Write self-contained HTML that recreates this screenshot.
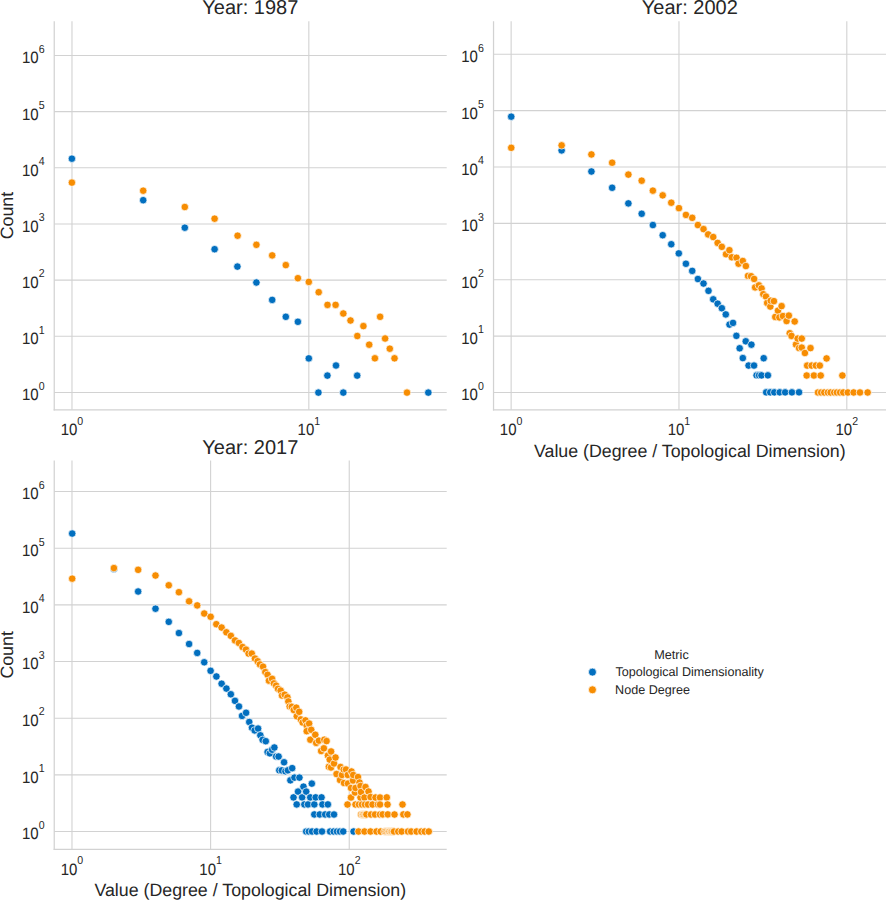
<!DOCTYPE html>
<html><head><meta charset="utf-8"><style>
html,body{margin:0;padding:0;background:#fff;}
svg{display:block;}
text{font-family:"Liberation Sans", sans-serif;fill:#262626;text-rendering:geometricPrecision;}
</style></head><body>
<svg width="886" height="900" viewBox="0 0 886 900">
<rect width="886" height="900" fill="#fff"/>
<line x1="54.24" y1="392.47" x2="446.70" y2="392.47" stroke="#d2d2d2" stroke-width="1.1"/>
<line x1="54.24" y1="336.30" x2="446.70" y2="336.30" stroke="#d2d2d2" stroke-width="1.1"/>
<line x1="54.24" y1="280.13" x2="446.70" y2="280.13" stroke="#d2d2d2" stroke-width="1.1"/>
<line x1="54.24" y1="223.96" x2="446.70" y2="223.96" stroke="#d2d2d2" stroke-width="1.1"/>
<line x1="54.24" y1="167.79" x2="446.70" y2="167.79" stroke="#d2d2d2" stroke-width="1.1"/>
<line x1="54.24" y1="111.62" x2="446.70" y2="111.62" stroke="#d2d2d2" stroke-width="1.1"/>
<line x1="54.24" y1="55.45" x2="446.70" y2="55.45" stroke="#d2d2d2" stroke-width="1.1"/>
<line x1="71.98" y1="21.30" x2="71.98" y2="409.87" stroke="#d2d2d2" stroke-width="1.1"/>
<line x1="308.83" y1="21.30" x2="308.83" y2="409.87" stroke="#d2d2d2" stroke-width="1.1"/>
<line x1="54.24" y1="21.30" x2="54.24" y2="410.47" stroke="#d2d2d2" stroke-width="1.25"/>
<line x1="53.64" y1="409.87" x2="446.70" y2="409.87" stroke="#d2d2d2" stroke-width="1.25"/>
<text transform="translate(21.97,400.37) scale(1,1.1)" font-size="15.0">10</text>
<text transform="translate(38.65,389.77) scale(1,1.1)" font-size="10.6">0</text>
<text transform="translate(21.97,344.20) scale(1,1.1)" font-size="15.0">10</text>
<text transform="translate(38.65,333.60) scale(1,1.1)" font-size="10.6">1</text>
<text transform="translate(21.97,288.03) scale(1,1.1)" font-size="15.0">10</text>
<text transform="translate(38.65,277.43) scale(1,1.1)" font-size="10.6">2</text>
<text transform="translate(21.97,231.86) scale(1,1.1)" font-size="15.0">10</text>
<text transform="translate(38.65,221.26) scale(1,1.1)" font-size="10.6">3</text>
<text transform="translate(21.97,175.69) scale(1,1.1)" font-size="15.0">10</text>
<text transform="translate(38.65,165.09) scale(1,1.1)" font-size="10.6">4</text>
<text transform="translate(21.97,119.52) scale(1,1.1)" font-size="15.0">10</text>
<text transform="translate(38.65,108.92) scale(1,1.1)" font-size="10.6">5</text>
<text transform="translate(21.97,63.35) scale(1,1.1)" font-size="15.0">10</text>
<text transform="translate(38.65,52.75) scale(1,1.1)" font-size="10.6">6</text>
<text transform="translate(60.69,435.27) scale(1,1.1)" font-size="15.0">10</text>
<text transform="translate(77.37,424.87) scale(1,1.1)" font-size="10.6">0</text>
<text transform="translate(297.54,435.27) scale(1,1.1)" font-size="15.0">10</text>
<text transform="translate(314.22,424.87) scale(1,1.1)" font-size="10.6">1</text>
<text x="250.27" y="14.40" font-size="20" text-anchor="middle">Year: 1987</text>
<text transform="translate(13.4,215.59) rotate(-90)" x="0" y="0" font-size="17.8" text-anchor="middle">Count</text>
<line x1="493.54" y1="392.47" x2="886.50" y2="392.47" stroke="#d2d2d2" stroke-width="1.1"/>
<line x1="493.54" y1="336.10" x2="886.50" y2="336.10" stroke="#d2d2d2" stroke-width="1.1"/>
<line x1="493.54" y1="279.72" x2="886.50" y2="279.72" stroke="#d2d2d2" stroke-width="1.1"/>
<line x1="493.54" y1="223.35" x2="886.50" y2="223.35" stroke="#d2d2d2" stroke-width="1.1"/>
<line x1="493.54" y1="166.97" x2="886.50" y2="166.97" stroke="#d2d2d2" stroke-width="1.1"/>
<line x1="493.54" y1="110.60" x2="886.50" y2="110.60" stroke="#d2d2d2" stroke-width="1.1"/>
<line x1="493.54" y1="54.22" x2="886.50" y2="54.22" stroke="#d2d2d2" stroke-width="1.1"/>
<line x1="511.14" y1="21.30" x2="511.14" y2="409.87" stroke="#d2d2d2" stroke-width="1.1"/>
<line x1="678.97" y1="21.30" x2="678.97" y2="409.87" stroke="#d2d2d2" stroke-width="1.1"/>
<line x1="846.80" y1="21.30" x2="846.80" y2="409.87" stroke="#d2d2d2" stroke-width="1.1"/>
<line x1="493.54" y1="21.30" x2="493.54" y2="410.47" stroke="#d2d2d2" stroke-width="1.25"/>
<line x1="492.94" y1="409.87" x2="886.50" y2="409.87" stroke="#d2d2d2" stroke-width="1.25"/>
<text transform="translate(461.27,400.37) scale(1,1.1)" font-size="15.0">10</text>
<text transform="translate(477.95,389.77) scale(1,1.1)" font-size="10.6">0</text>
<text transform="translate(461.27,344.00) scale(1,1.1)" font-size="15.0">10</text>
<text transform="translate(477.95,333.40) scale(1,1.1)" font-size="10.6">1</text>
<text transform="translate(461.27,287.62) scale(1,1.1)" font-size="15.0">10</text>
<text transform="translate(477.95,277.02) scale(1,1.1)" font-size="10.6">2</text>
<text transform="translate(461.27,231.25) scale(1,1.1)" font-size="15.0">10</text>
<text transform="translate(477.95,220.65) scale(1,1.1)" font-size="10.6">3</text>
<text transform="translate(461.27,174.87) scale(1,1.1)" font-size="15.0">10</text>
<text transform="translate(477.95,164.27) scale(1,1.1)" font-size="10.6">4</text>
<text transform="translate(461.27,118.50) scale(1,1.1)" font-size="15.0">10</text>
<text transform="translate(477.95,107.90) scale(1,1.1)" font-size="10.6">5</text>
<text transform="translate(461.27,62.12) scale(1,1.1)" font-size="15.0">10</text>
<text transform="translate(477.95,51.52) scale(1,1.1)" font-size="10.6">6</text>
<text transform="translate(499.85,435.27) scale(1,1.1)" font-size="15.0">10</text>
<text transform="translate(516.53,424.87) scale(1,1.1)" font-size="10.6">0</text>
<text transform="translate(667.68,435.27) scale(1,1.1)" font-size="15.0">10</text>
<text transform="translate(684.36,424.87) scale(1,1.1)" font-size="10.6">1</text>
<text transform="translate(835.51,435.27) scale(1,1.1)" font-size="15.0">10</text>
<text transform="translate(852.19,424.87) scale(1,1.1)" font-size="10.6">2</text>
<text x="689.82" y="14.40" font-size="20" text-anchor="middle">Year: 2002</text>
<text x="689.82" y="456.67" font-size="17.8" text-anchor="middle">Value (Degree / Topological Dimension)</text>
<line x1="54.24" y1="831.50" x2="446.70" y2="831.50" stroke="#d2d2d2" stroke-width="1.1"/>
<line x1="54.24" y1="774.84" x2="446.70" y2="774.84" stroke="#d2d2d2" stroke-width="1.1"/>
<line x1="54.24" y1="718.18" x2="446.70" y2="718.18" stroke="#d2d2d2" stroke-width="1.1"/>
<line x1="54.24" y1="661.52" x2="446.70" y2="661.52" stroke="#d2d2d2" stroke-width="1.1"/>
<line x1="54.24" y1="604.86" x2="446.70" y2="604.86" stroke="#d2d2d2" stroke-width="1.1"/>
<line x1="54.24" y1="548.20" x2="446.70" y2="548.20" stroke="#d2d2d2" stroke-width="1.1"/>
<line x1="54.24" y1="491.54" x2="446.70" y2="491.54" stroke="#d2d2d2" stroke-width="1.1"/>
<line x1="71.98" y1="460.50" x2="71.98" y2="849.30" stroke="#d2d2d2" stroke-width="1.1"/>
<line x1="210.61" y1="460.50" x2="210.61" y2="849.30" stroke="#d2d2d2" stroke-width="1.1"/>
<line x1="349.24" y1="460.50" x2="349.24" y2="849.30" stroke="#d2d2d2" stroke-width="1.1"/>
<line x1="54.24" y1="460.50" x2="54.24" y2="849.90" stroke="#d2d2d2" stroke-width="1.25"/>
<line x1="53.64" y1="849.30" x2="446.70" y2="849.30" stroke="#d2d2d2" stroke-width="1.25"/>
<text transform="translate(21.97,839.40) scale(1,1.1)" font-size="15.0">10</text>
<text transform="translate(38.65,828.80) scale(1,1.1)" font-size="10.6">0</text>
<text transform="translate(21.97,782.74) scale(1,1.1)" font-size="15.0">10</text>
<text transform="translate(38.65,772.14) scale(1,1.1)" font-size="10.6">1</text>
<text transform="translate(21.97,726.08) scale(1,1.1)" font-size="15.0">10</text>
<text transform="translate(38.65,715.48) scale(1,1.1)" font-size="10.6">2</text>
<text transform="translate(21.97,669.42) scale(1,1.1)" font-size="15.0">10</text>
<text transform="translate(38.65,658.82) scale(1,1.1)" font-size="10.6">3</text>
<text transform="translate(21.97,612.76) scale(1,1.1)" font-size="15.0">10</text>
<text transform="translate(38.65,602.16) scale(1,1.1)" font-size="10.6">4</text>
<text transform="translate(21.97,556.10) scale(1,1.1)" font-size="15.0">10</text>
<text transform="translate(38.65,545.50) scale(1,1.1)" font-size="10.6">5</text>
<text transform="translate(21.97,499.44) scale(1,1.1)" font-size="15.0">10</text>
<text transform="translate(38.65,488.84) scale(1,1.1)" font-size="10.6">6</text>
<text transform="translate(60.69,874.70) scale(1,1.1)" font-size="15.0">10</text>
<text transform="translate(77.37,864.30) scale(1,1.1)" font-size="10.6">0</text>
<text transform="translate(199.32,874.70) scale(1,1.1)" font-size="15.0">10</text>
<text transform="translate(216.00,864.30) scale(1,1.1)" font-size="10.6">1</text>
<text transform="translate(337.95,874.70) scale(1,1.1)" font-size="15.0">10</text>
<text transform="translate(354.63,864.30) scale(1,1.1)" font-size="10.6">2</text>
<text x="250.27" y="453.60" font-size="20" text-anchor="middle">Year: 2017</text>
<text transform="translate(13.4,654.90) rotate(-90)" x="0" y="0" font-size="17.8" text-anchor="middle">Count</text>
<text x="250.27" y="895.60" font-size="17.8" text-anchor="middle">Value (Degree / Topological Dimension)</text>
<circle cx="71.90" cy="158.70" r="3.75" fill="#026fbf" stroke="#fff" stroke-width="0.7"/>
<circle cx="143.20" cy="200.20" r="3.75" fill="#026fbf" stroke="#fff" stroke-width="0.7"/>
<circle cx="184.80" cy="227.70" r="3.75" fill="#026fbf" stroke="#fff" stroke-width="0.7"/>
<circle cx="214.60" cy="249.20" r="3.75" fill="#026fbf" stroke="#fff" stroke-width="0.7"/>
<circle cx="237.40" cy="266.60" r="3.75" fill="#026fbf" stroke="#fff" stroke-width="0.7"/>
<circle cx="256.40" cy="282.50" r="3.75" fill="#026fbf" stroke="#fff" stroke-width="0.7"/>
<circle cx="272.20" cy="299.90" r="3.75" fill="#026fbf" stroke="#fff" stroke-width="0.7"/>
<circle cx="285.80" cy="316.80" r="3.75" fill="#026fbf" stroke="#fff" stroke-width="0.7"/>
<circle cx="297.90" cy="321.80" r="3.75" fill="#026fbf" stroke="#fff" stroke-width="0.7"/>
<circle cx="308.80" cy="358.40" r="3.75" fill="#026fbf" stroke="#fff" stroke-width="0.7"/>
<circle cx="318.40" cy="392.60" r="3.75" fill="#026fbf" stroke="#fff" stroke-width="0.7"/>
<circle cx="327.40" cy="375.60" r="3.75" fill="#026fbf" stroke="#fff" stroke-width="0.7"/>
<circle cx="336.00" cy="365.50" r="3.75" fill="#026fbf" stroke="#fff" stroke-width="0.7"/>
<circle cx="343.30" cy="392.60" r="3.75" fill="#026fbf" stroke="#fff" stroke-width="0.7"/>
<circle cx="357.20" cy="375.60" r="3.75" fill="#026fbf" stroke="#fff" stroke-width="0.7"/>
<circle cx="428.30" cy="392.60" r="3.75" fill="#026fbf" stroke="#fff" stroke-width="0.7"/>
<circle cx="71.90" cy="182.60" r="3.75" fill="#f78d02" stroke="#fff" stroke-width="0.7"/>
<circle cx="143.20" cy="190.70" r="3.75" fill="#f78d02" stroke="#fff" stroke-width="0.7"/>
<circle cx="184.80" cy="207.00" r="3.75" fill="#f78d02" stroke="#fff" stroke-width="0.7"/>
<circle cx="214.60" cy="218.70" r="3.75" fill="#f78d02" stroke="#fff" stroke-width="0.7"/>
<circle cx="237.60" cy="235.70" r="3.75" fill="#f78d02" stroke="#fff" stroke-width="0.7"/>
<circle cx="256.40" cy="244.80" r="3.75" fill="#f78d02" stroke="#fff" stroke-width="0.7"/>
<circle cx="272.20" cy="255.40" r="3.75" fill="#f78d02" stroke="#fff" stroke-width="0.7"/>
<circle cx="285.80" cy="265.10" r="3.75" fill="#f78d02" stroke="#fff" stroke-width="0.7"/>
<circle cx="297.90" cy="278.20" r="3.75" fill="#f78d02" stroke="#fff" stroke-width="0.7"/>
<circle cx="308.80" cy="281.90" r="3.75" fill="#f78d02" stroke="#fff" stroke-width="0.7"/>
<circle cx="318.70" cy="292.20" r="3.75" fill="#f78d02" stroke="#fff" stroke-width="0.7"/>
<circle cx="327.50" cy="304.90" r="3.75" fill="#f78d02" stroke="#fff" stroke-width="0.7"/>
<circle cx="335.60" cy="304.90" r="3.75" fill="#f78d02" stroke="#fff" stroke-width="0.7"/>
<circle cx="343.30" cy="313.50" r="3.75" fill="#f78d02" stroke="#fff" stroke-width="0.7"/>
<circle cx="350.50" cy="320.50" r="3.75" fill="#f78d02" stroke="#fff" stroke-width="0.7"/>
<circle cx="357.30" cy="336.00" r="3.75" fill="#f78d02" stroke="#fff" stroke-width="0.7"/>
<circle cx="363.40" cy="326.10" r="3.75" fill="#f78d02" stroke="#fff" stroke-width="0.7"/>
<circle cx="369.20" cy="344.70" r="3.75" fill="#f78d02" stroke="#fff" stroke-width="0.7"/>
<circle cx="374.90" cy="358.30" r="3.75" fill="#f78d02" stroke="#fff" stroke-width="0.7"/>
<circle cx="380.10" cy="316.80" r="3.75" fill="#f78d02" stroke="#fff" stroke-width="0.7"/>
<circle cx="385.10" cy="338.50" r="3.75" fill="#f78d02" stroke="#fff" stroke-width="0.7"/>
<circle cx="389.80" cy="348.70" r="3.75" fill="#f78d02" stroke="#fff" stroke-width="0.7"/>
<circle cx="394.50" cy="358.30" r="3.75" fill="#f78d02" stroke="#fff" stroke-width="0.7"/>
<circle cx="407.00" cy="392.60" r="3.75" fill="#f78d02" stroke="#fff" stroke-width="0.7"/>
<circle cx="511.24" cy="116.66" r="3.75" fill="#026fbf" stroke="#fff" stroke-width="0.7"/>
<circle cx="561.63" cy="150.38" r="3.75" fill="#026fbf" stroke="#fff" stroke-width="0.7"/>
<circle cx="591.42" cy="171.51" r="3.75" fill="#026fbf" stroke="#fff" stroke-width="0.7"/>
<circle cx="612.14" cy="187.77" r="3.75" fill="#026fbf" stroke="#fff" stroke-width="0.7"/>
<circle cx="628.37" cy="203.39" r="3.75" fill="#026fbf" stroke="#fff" stroke-width="0.7"/>
<circle cx="641.69" cy="213.77" r="3.75" fill="#026fbf" stroke="#fff" stroke-width="0.7"/>
<circle cx="652.87" cy="225.06" r="3.75" fill="#026fbf" stroke="#fff" stroke-width="0.7"/>
<circle cx="662.69" cy="235.21" r="3.75" fill="#026fbf" stroke="#fff" stroke-width="0.7"/>
<circle cx="671.26" cy="244.24" r="3.75" fill="#026fbf" stroke="#fff" stroke-width="0.7"/>
<circle cx="678.80" cy="253.39" r="3.75" fill="#026fbf" stroke="#fff" stroke-width="0.7"/>
<circle cx="685.91" cy="263.77" r="3.75" fill="#026fbf" stroke="#fff" stroke-width="0.7"/>
<circle cx="692.23" cy="270.88" r="3.75" fill="#026fbf" stroke="#fff" stroke-width="0.7"/>
<circle cx="697.88" cy="279.01" r="3.75" fill="#026fbf" stroke="#fff" stroke-width="0.7"/>
<circle cx="703.52" cy="283.52" r="3.75" fill="#026fbf" stroke="#fff" stroke-width="0.7"/>
<circle cx="708.49" cy="290.86" r="3.75" fill="#026fbf" stroke="#fff" stroke-width="0.7"/>
<circle cx="713.23" cy="299.32" r="3.75" fill="#026fbf" stroke="#fff" stroke-width="0.7"/>
<circle cx="717.65" cy="303.70" r="3.75" fill="#026fbf" stroke="#fff" stroke-width="0.7"/>
<circle cx="721.83" cy="308.22" r="3.75" fill="#026fbf" stroke="#fff" stroke-width="0.7"/>
<circle cx="725.78" cy="314.42" r="3.75" fill="#026fbf" stroke="#fff" stroke-width="0.7"/>
<circle cx="729.50" cy="324.58" r="3.75" fill="#026fbf" stroke="#fff" stroke-width="0.7"/>
<circle cx="733.00" cy="322.89" r="3.75" fill="#026fbf" stroke="#fff" stroke-width="0.7"/>
<circle cx="736.39" cy="335.87" r="3.75" fill="#026fbf" stroke="#fff" stroke-width="0.7"/>
<circle cx="739.66" cy="348.28" r="3.75" fill="#026fbf" stroke="#fff" stroke-width="0.7"/>
<circle cx="742.82" cy="358.10" r="3.75" fill="#026fbf" stroke="#fff" stroke-width="0.7"/>
<circle cx="745.76" cy="341.29" r="3.75" fill="#026fbf" stroke="#fff" stroke-width="0.7"/>
<circle cx="748.58" cy="365.55" r="3.75" fill="#026fbf" stroke="#fff" stroke-width="0.7"/>
<circle cx="751.40" cy="344.67" r="3.75" fill="#026fbf" stroke="#fff" stroke-width="0.7"/>
<circle cx="754.00" cy="365.55" r="3.75" fill="#026fbf" stroke="#fff" stroke-width="0.7"/>
<circle cx="756.59" cy="375.37" r="3.75" fill="#026fbf" stroke="#fff" stroke-width="0.7"/>
<circle cx="759.07" cy="375.37" r="3.75" fill="#026fbf" stroke="#fff" stroke-width="0.7"/>
<circle cx="761.44" cy="375.37" r="3.75" fill="#026fbf" stroke="#fff" stroke-width="0.7"/>
<circle cx="763.70" cy="358.22" r="3.75" fill="#026fbf" stroke="#fff" stroke-width="0.7"/>
<circle cx="766.19" cy="392.37" r="3.75" fill="#026fbf" stroke="#fff" stroke-width="0.7"/>
<circle cx="767.88" cy="375.37" r="3.75" fill="#026fbf" stroke="#fff" stroke-width="0.7"/>
<circle cx="770.25" cy="392.37" r="3.75" fill="#026fbf" stroke="#fff" stroke-width="0.7"/>
<circle cx="774.31" cy="392.37" r="3.75" fill="#026fbf" stroke="#fff" stroke-width="0.7"/>
<circle cx="779.73" cy="392.37" r="3.75" fill="#026fbf" stroke="#fff" stroke-width="0.7"/>
<circle cx="785.15" cy="392.37" r="3.75" fill="#026fbf" stroke="#fff" stroke-width="0.7"/>
<circle cx="791.92" cy="392.37" r="3.75" fill="#026fbf" stroke="#fff" stroke-width="0.7"/>
<circle cx="799.03" cy="392.30" r="3.75" fill="#026fbf" stroke="#fff" stroke-width="0.7"/>
<circle cx="511.24" cy="147.81" r="3.75" fill="#f78d02" stroke="#fff" stroke-width="0.7"/>
<circle cx="561.63" cy="145.37" r="3.75" fill="#f78d02" stroke="#fff" stroke-width="0.7"/>
<circle cx="591.42" cy="154.45" r="3.75" fill="#f78d02" stroke="#fff" stroke-width="0.7"/>
<circle cx="612.14" cy="162.71" r="3.75" fill="#f78d02" stroke="#fff" stroke-width="0.7"/>
<circle cx="628.37" cy="174.60" r="3.75" fill="#f78d02" stroke="#fff" stroke-width="0.7"/>
<circle cx="641.69" cy="180.70" r="3.75" fill="#f78d02" stroke="#fff" stroke-width="0.7"/>
<circle cx="652.87" cy="190.63" r="3.75" fill="#f78d02" stroke="#fff" stroke-width="0.7"/>
<circle cx="662.69" cy="195.37" r="3.75" fill="#f78d02" stroke="#fff" stroke-width="0.7"/>
<circle cx="671.26" cy="202.71" r="3.75" fill="#f78d02" stroke="#fff" stroke-width="0.7"/>
<circle cx="678.94" cy="208.13" r="3.75" fill="#f78d02" stroke="#fff" stroke-width="0.7"/>
<circle cx="685.94" cy="214.90" r="3.75" fill="#f78d02" stroke="#fff" stroke-width="0.7"/>
<circle cx="692.23" cy="217.83" r="3.75" fill="#f78d02" stroke="#fff" stroke-width="0.7"/>
<circle cx="697.88" cy="225.06" r="3.75" fill="#f78d02" stroke="#fff" stroke-width="0.7"/>
<circle cx="703.52" cy="229.12" r="3.75" fill="#f78d02" stroke="#fff" stroke-width="0.7"/>
<circle cx="708.15" cy="234.42" r="3.75" fill="#f78d02" stroke="#fff" stroke-width="0.7"/>
<circle cx="713.23" cy="237.02" r="3.75" fill="#f78d02" stroke="#fff" stroke-width="0.7"/>
<circle cx="717.63" cy="242.89" r="3.75" fill="#f78d02" stroke="#fff" stroke-width="0.7"/>
<circle cx="721.81" cy="246.84" r="3.75" fill="#f78d02" stroke="#fff" stroke-width="0.7"/>
<circle cx="726.02" cy="254.22" r="3.75" fill="#f78d02" stroke="#fff" stroke-width="0.7"/>
<circle cx="729.40" cy="250.16" r="3.75" fill="#f78d02" stroke="#fff" stroke-width="0.7"/>
<circle cx="731.77" cy="257.27" r="3.75" fill="#f78d02" stroke="#fff" stroke-width="0.7"/>
<circle cx="736.51" cy="257.74" r="3.75" fill="#f78d02" stroke="#fff" stroke-width="0.7"/>
<circle cx="738.54" cy="263.70" r="3.75" fill="#f78d02" stroke="#fff" stroke-width="0.7"/>
<circle cx="742.81" cy="260.99" r="3.75" fill="#f78d02" stroke="#fff" stroke-width="0.7"/>
<circle cx="745.86" cy="266.07" r="3.75" fill="#f78d02" stroke="#fff" stroke-width="0.7"/>
<circle cx="748.02" cy="275.89" r="3.75" fill="#f78d02" stroke="#fff" stroke-width="0.7"/>
<circle cx="751.07" cy="276.23" r="3.75" fill="#f78d02" stroke="#fff" stroke-width="0.7"/>
<circle cx="754.12" cy="278.94" r="3.75" fill="#f78d02" stroke="#fff" stroke-width="0.7"/>
<circle cx="755.14" cy="287.40" r="3.75" fill="#f78d02" stroke="#fff" stroke-width="0.7"/>
<circle cx="758.86" cy="285.37" r="3.75" fill="#f78d02" stroke="#fff" stroke-width="0.7"/>
<circle cx="761.57" cy="288.42" r="3.75" fill="#f78d02" stroke="#fff" stroke-width="0.7"/>
<circle cx="763.26" cy="294.18" r="3.75" fill="#f78d02" stroke="#fff" stroke-width="0.7"/>
<circle cx="765.97" cy="296.55" r="3.75" fill="#f78d02" stroke="#fff" stroke-width="0.7"/>
<circle cx="767.16" cy="302.96" r="3.75" fill="#f78d02" stroke="#fff" stroke-width="0.7"/>
<circle cx="770.32" cy="306.57" r="3.75" fill="#f78d02" stroke="#fff" stroke-width="0.7"/>
<circle cx="770.77" cy="300.70" r="3.75" fill="#f78d02" stroke="#fff" stroke-width="0.7"/>
<circle cx="773.93" cy="301.15" r="3.75" fill="#f78d02" stroke="#fff" stroke-width="0.7"/>
<circle cx="775.28" cy="316.95" r="3.75" fill="#f78d02" stroke="#fff" stroke-width="0.7"/>
<circle cx="777.99" cy="310.63" r="3.75" fill="#f78d02" stroke="#fff" stroke-width="0.7"/>
<circle cx="779.35" cy="317.40" r="3.75" fill="#f78d02" stroke="#fff" stroke-width="0.7"/>
<circle cx="781.60" cy="306.12" r="3.75" fill="#f78d02" stroke="#fff" stroke-width="0.7"/>
<circle cx="782.96" cy="316.05" r="3.75" fill="#f78d02" stroke="#fff" stroke-width="0.7"/>
<circle cx="786.57" cy="321.02" r="3.75" fill="#f78d02" stroke="#fff" stroke-width="0.7"/>
<circle cx="788.83" cy="315.60" r="3.75" fill="#f78d02" stroke="#fff" stroke-width="0.7"/>
<circle cx="789.73" cy="333.21" r="3.75" fill="#f78d02" stroke="#fff" stroke-width="0.7"/>
<circle cx="791.53" cy="335.91" r="3.75" fill="#f78d02" stroke="#fff" stroke-width="0.7"/>
<circle cx="794.70" cy="321.47" r="3.75" fill="#f78d02" stroke="#fff" stroke-width="0.7"/>
<circle cx="795.98" cy="344.51" r="3.75" fill="#f78d02" stroke="#fff" stroke-width="0.7"/>
<circle cx="797.67" cy="338.58" r="3.75" fill="#f78d02" stroke="#fff" stroke-width="0.7"/>
<circle cx="799.03" cy="348.06" r="3.75" fill="#f78d02" stroke="#fff" stroke-width="0.7"/>
<circle cx="801.74" cy="338.58" r="3.75" fill="#f78d02" stroke="#fff" stroke-width="0.7"/>
<circle cx="801.74" cy="347.61" r="3.75" fill="#f78d02" stroke="#fff" stroke-width="0.7"/>
<circle cx="804.90" cy="353.02" r="3.75" fill="#f78d02" stroke="#fff" stroke-width="0.7"/>
<circle cx="806.70" cy="375.51" r="3.75" fill="#f78d02" stroke="#fff" stroke-width="0.7"/>
<circle cx="807.16" cy="365.58" r="3.75" fill="#f78d02" stroke="#fff" stroke-width="0.7"/>
<circle cx="810.50" cy="348.10" r="3.75" fill="#f78d02" stroke="#fff" stroke-width="0.7"/>
<circle cx="811.67" cy="365.58" r="3.75" fill="#f78d02" stroke="#fff" stroke-width="0.7"/>
<circle cx="813.93" cy="375.51" r="3.75" fill="#f78d02" stroke="#fff" stroke-width="0.7"/>
<circle cx="815.85" cy="365.55" r="3.75" fill="#f78d02" stroke="#fff" stroke-width="0.7"/>
<circle cx="817.99" cy="392.48" r="3.75" fill="#f78d02" stroke="#fff" stroke-width="0.7"/>
<circle cx="819.80" cy="365.58" r="3.75" fill="#f78d02" stroke="#fff" stroke-width="0.7"/>
<circle cx="820.70" cy="375.51" r="3.75" fill="#f78d02" stroke="#fff" stroke-width="0.7"/>
<circle cx="821.15" cy="392.48" r="3.75" fill="#f78d02" stroke="#fff" stroke-width="0.7"/>
<circle cx="824.31" cy="392.48" r="3.75" fill="#f78d02" stroke="#fff" stroke-width="0.7"/>
<circle cx="826.57" cy="358.44" r="3.75" fill="#f78d02" stroke="#fff" stroke-width="0.7"/>
<circle cx="827.92" cy="392.48" r="3.75" fill="#f78d02" stroke="#fff" stroke-width="0.7"/>
<circle cx="830.63" cy="392.48" r="3.75" fill="#f78d02" stroke="#fff" stroke-width="0.7"/>
<circle cx="834.24" cy="392.48" r="3.75" fill="#f78d02" stroke="#fff" stroke-width="0.7"/>
<circle cx="836.95" cy="392.48" r="3.75" fill="#f78d02" stroke="#fff" stroke-width="0.7"/>
<circle cx="840.11" cy="392.48" r="3.75" fill="#f78d02" stroke="#fff" stroke-width="0.7"/>
<circle cx="842.37" cy="375.51" r="3.75" fill="#f78d02" stroke="#fff" stroke-width="0.7"/>
<circle cx="843.27" cy="392.48" r="3.75" fill="#f78d02" stroke="#fff" stroke-width="0.7"/>
<circle cx="847.79" cy="392.48" r="3.75" fill="#f78d02" stroke="#fff" stroke-width="0.7"/>
<circle cx="853.66" cy="392.48" r="3.75" fill="#f78d02" stroke="#fff" stroke-width="0.7"/>
<circle cx="859.98" cy="392.48" r="3.75" fill="#f78d02" stroke="#fff" stroke-width="0.7"/>
<circle cx="867.65" cy="392.48" r="3.75" fill="#f78d02" stroke="#fff" stroke-width="0.7"/>
<circle cx="72.19" cy="533.54" r="3.75" fill="#026fbf" stroke="#fff" stroke-width="0.7"/>
<circle cx="113.91" cy="569.03" r="3.75" fill="#026fbf" stroke="#fff" stroke-width="0.7"/>
<circle cx="138.15" cy="591.51" r="3.75" fill="#026fbf" stroke="#fff" stroke-width="0.7"/>
<circle cx="155.49" cy="608.71" r="3.75" fill="#026fbf" stroke="#fff" stroke-width="0.7"/>
<circle cx="168.76" cy="621.85" r="3.75" fill="#026fbf" stroke="#fff" stroke-width="0.7"/>
<circle cx="178.92" cy="633.09" r="3.75" fill="#026fbf" stroke="#fff" stroke-width="0.7"/>
<circle cx="189.10" cy="644.00" r="3.75" fill="#026fbf" stroke="#fff" stroke-width="0.7"/>
<circle cx="197.22" cy="652.93" r="3.75" fill="#026fbf" stroke="#fff" stroke-width="0.7"/>
<circle cx="204.23" cy="662.28" r="3.75" fill="#026fbf" stroke="#fff" stroke-width="0.7"/>
<circle cx="210.60" cy="670.80" r="3.75" fill="#026fbf" stroke="#fff" stroke-width="0.7"/>
<circle cx="216.38" cy="676.49" r="3.75" fill="#026fbf" stroke="#fff" stroke-width="0.7"/>
<circle cx="221.61" cy="683.71" r="3.75" fill="#026fbf" stroke="#fff" stroke-width="0.7"/>
<circle cx="226.40" cy="688.59" r="3.75" fill="#026fbf" stroke="#fff" stroke-width="0.7"/>
<circle cx="230.82" cy="694.28" r="3.75" fill="#026fbf" stroke="#fff" stroke-width="0.7"/>
<circle cx="234.98" cy="700.87" r="3.75" fill="#026fbf" stroke="#fff" stroke-width="0.7"/>
<circle cx="238.95" cy="706.47" r="3.75" fill="#026fbf" stroke="#fff" stroke-width="0.7"/>
<circle cx="242.02" cy="715.95" r="3.75" fill="#026fbf" stroke="#fff" stroke-width="0.7"/>
<circle cx="246.08" cy="712.79" r="3.75" fill="#026fbf" stroke="#fff" stroke-width="0.7"/>
<circle cx="249.24" cy="722.00" r="3.75" fill="#026fbf" stroke="#fff" stroke-width="0.7"/>
<circle cx="251.95" cy="727.69" r="3.75" fill="#026fbf" stroke="#fff" stroke-width="0.7"/>
<circle cx="254.66" cy="730.40" r="3.75" fill="#026fbf" stroke="#fff" stroke-width="0.7"/>
<circle cx="258.09" cy="728.59" r="3.75" fill="#026fbf" stroke="#fff" stroke-width="0.7"/>
<circle cx="260.35" cy="735.32" r="3.75" fill="#026fbf" stroke="#fff" stroke-width="0.7"/>
<circle cx="262.61" cy="739.83" r="3.75" fill="#026fbf" stroke="#fff" stroke-width="0.7"/>
<circle cx="265.77" cy="741.19" r="3.75" fill="#026fbf" stroke="#fff" stroke-width="0.7"/>
<circle cx="267.57" cy="752.02" r="3.75" fill="#026fbf" stroke="#fff" stroke-width="0.7"/>
<circle cx="269.83" cy="753.37" r="3.75" fill="#026fbf" stroke="#fff" stroke-width="0.7"/>
<circle cx="272.09" cy="749.76" r="3.75" fill="#026fbf" stroke="#fff" stroke-width="0.7"/>
<circle cx="274.35" cy="747.51" r="3.75" fill="#026fbf" stroke="#fff" stroke-width="0.7"/>
<circle cx="276.15" cy="756.53" r="3.75" fill="#026fbf" stroke="#fff" stroke-width="0.7"/>
<circle cx="278.59" cy="756.53" r="3.75" fill="#026fbf" stroke="#fff" stroke-width="0.7"/>
<circle cx="279.31" cy="770.35" r="3.75" fill="#026fbf" stroke="#fff" stroke-width="0.7"/>
<circle cx="281.81" cy="770.38" r="3.75" fill="#026fbf" stroke="#fff" stroke-width="0.7"/>
<circle cx="284.06" cy="762.26" r="3.75" fill="#026fbf" stroke="#fff" stroke-width="0.7"/>
<circle cx="285.42" cy="771.29" r="3.75" fill="#026fbf" stroke="#fff" stroke-width="0.7"/>
<circle cx="287.89" cy="770.35" r="3.75" fill="#026fbf" stroke="#fff" stroke-width="0.7"/>
<circle cx="290.38" cy="780.32" r="3.75" fill="#026fbf" stroke="#fff" stroke-width="0.7"/>
<circle cx="292.19" cy="768.13" r="3.75" fill="#026fbf" stroke="#fff" stroke-width="0.7"/>
<circle cx="293.54" cy="797.38" r="3.75" fill="#026fbf" stroke="#fff" stroke-width="0.7"/>
<circle cx="294.45" cy="777.61" r="3.75" fill="#026fbf" stroke="#fff" stroke-width="0.7"/>
<circle cx="296.70" cy="804.42" r="3.75" fill="#026fbf" stroke="#fff" stroke-width="0.7"/>
<circle cx="298.06" cy="791.60" r="3.75" fill="#026fbf" stroke="#fff" stroke-width="0.7"/>
<circle cx="299.41" cy="777.61" r="3.75" fill="#026fbf" stroke="#fff" stroke-width="0.7"/>
<circle cx="302.12" cy="797.38" r="3.75" fill="#026fbf" stroke="#fff" stroke-width="0.7"/>
<circle cx="303.48" cy="786.64" r="3.75" fill="#026fbf" stroke="#fff" stroke-width="0.7"/>
<circle cx="304.38" cy="804.42" r="3.75" fill="#026fbf" stroke="#fff" stroke-width="0.7"/>
<circle cx="306.19" cy="791.60" r="3.75" fill="#026fbf" stroke="#fff" stroke-width="0.7"/>
<circle cx="306.19" cy="831.51" r="3.75" fill="#026fbf" stroke="#fff" stroke-width="0.7"/>
<circle cx="307.99" cy="804.42" r="3.75" fill="#026fbf" stroke="#fff" stroke-width="0.7"/>
<circle cx="308.89" cy="831.51" r="3.75" fill="#026fbf" stroke="#fff" stroke-width="0.7"/>
<circle cx="310.25" cy="797.38" r="3.75" fill="#026fbf" stroke="#fff" stroke-width="0.7"/>
<circle cx="311.82" cy="783.62" r="3.75" fill="#026fbf" stroke="#fff" stroke-width="0.7"/>
<circle cx="312.05" cy="831.51" r="3.75" fill="#026fbf" stroke="#fff" stroke-width="0.7"/>
<circle cx="314.31" cy="804.42" r="3.75" fill="#026fbf" stroke="#fff" stroke-width="0.7"/>
<circle cx="314.31" cy="814.45" r="3.75" fill="#026fbf" stroke="#fff" stroke-width="0.7"/>
<circle cx="315.67" cy="797.38" r="3.75" fill="#026fbf" stroke="#fff" stroke-width="0.7"/>
<circle cx="316.57" cy="831.51" r="3.75" fill="#026fbf" stroke="#fff" stroke-width="0.7"/>
<circle cx="319.73" cy="814.45" r="3.75" fill="#026fbf" stroke="#fff" stroke-width="0.7"/>
<circle cx="321.53" cy="797.38" r="3.75" fill="#026fbf" stroke="#fff" stroke-width="0.7"/>
<circle cx="321.99" cy="831.51" r="3.75" fill="#026fbf" stroke="#fff" stroke-width="0.7"/>
<circle cx="322.44" cy="804.42" r="3.75" fill="#026fbf" stroke="#fff" stroke-width="0.7"/>
<circle cx="325.15" cy="814.45" r="3.75" fill="#026fbf" stroke="#fff" stroke-width="0.7"/>
<circle cx="327.86" cy="804.42" r="3.75" fill="#026fbf" stroke="#fff" stroke-width="0.7"/>
<circle cx="329.21" cy="814.45" r="3.75" fill="#026fbf" stroke="#fff" stroke-width="0.7"/>
<circle cx="330.11" cy="831.51" r="3.75" fill="#026fbf" stroke="#fff" stroke-width="0.7"/>
<circle cx="333.72" cy="831.51" r="3.75" fill="#026fbf" stroke="#fff" stroke-width="0.7"/>
<circle cx="334.00" cy="814.50" r="3.75" fill="#026fbf" stroke="#fff" stroke-width="0.7"/>
<circle cx="337.00" cy="831.50" r="3.75" fill="#026fbf" stroke="#fff" stroke-width="0.7"/>
<circle cx="340.00" cy="831.50" r="3.75" fill="#026fbf" stroke="#fff" stroke-width="0.7"/>
<circle cx="343.21" cy="831.51" r="3.75" fill="#026fbf" stroke="#fff" stroke-width="0.7"/>
<circle cx="353.59" cy="831.51" r="3.75" fill="#026fbf" stroke="#fff" stroke-width="0.7"/>
<circle cx="72.19" cy="578.65" r="3.75" fill="#f78d02" stroke="#fff" stroke-width="0.7"/>
<circle cx="113.91" cy="568.08" r="3.75" fill="#f78d02" stroke="#fff" stroke-width="0.7"/>
<circle cx="138.15" cy="569.84" r="3.75" fill="#f78d02" stroke="#fff" stroke-width="0.7"/>
<circle cx="155.49" cy="575.53" r="3.75" fill="#f78d02" stroke="#fff" stroke-width="0.7"/>
<circle cx="168.76" cy="585.28" r="3.75" fill="#f78d02" stroke="#fff" stroke-width="0.7"/>
<circle cx="178.92" cy="592.19" r="3.75" fill="#f78d02" stroke="#fff" stroke-width="0.7"/>
<circle cx="189.10" cy="601.33" r="3.75" fill="#f78d02" stroke="#fff" stroke-width="0.7"/>
<circle cx="197.22" cy="605.40" r="3.75" fill="#f78d02" stroke="#fff" stroke-width="0.7"/>
<circle cx="204.23" cy="613.52" r="3.75" fill="#f78d02" stroke="#fff" stroke-width="0.7"/>
<circle cx="210.63" cy="616.77" r="3.75" fill="#f78d02" stroke="#fff" stroke-width="0.7"/>
<circle cx="216.32" cy="624.19" r="3.75" fill="#f78d02" stroke="#fff" stroke-width="0.7"/>
<circle cx="221.60" cy="627.54" r="3.75" fill="#f78d02" stroke="#fff" stroke-width="0.7"/>
<circle cx="226.38" cy="632.31" r="3.75" fill="#f78d02" stroke="#fff" stroke-width="0.7"/>
<circle cx="230.85" cy="635.87" r="3.75" fill="#f78d02" stroke="#fff" stroke-width="0.7"/>
<circle cx="235.01" cy="640.44" r="3.75" fill="#f78d02" stroke="#fff" stroke-width="0.7"/>
<circle cx="238.87" cy="642.98" r="3.75" fill="#f78d02" stroke="#fff" stroke-width="0.7"/>
<circle cx="242.53" cy="647.04" r="3.75" fill="#f78d02" stroke="#fff" stroke-width="0.7"/>
<circle cx="245.98" cy="649.58" r="3.75" fill="#f78d02" stroke="#fff" stroke-width="0.7"/>
<circle cx="248.61" cy="653.58" r="3.75" fill="#f78d02" stroke="#fff" stroke-width="0.7"/>
<circle cx="251.77" cy="653.58" r="3.75" fill="#f78d02" stroke="#fff" stroke-width="0.7"/>
<circle cx="254.93" cy="658.54" r="3.75" fill="#f78d02" stroke="#fff" stroke-width="0.7"/>
<circle cx="257.64" cy="661.25" r="3.75" fill="#f78d02" stroke="#fff" stroke-width="0.7"/>
<circle cx="259.90" cy="664.41" r="3.75" fill="#f78d02" stroke="#fff" stroke-width="0.7"/>
<circle cx="263.06" cy="666.67" r="3.75" fill="#f78d02" stroke="#fff" stroke-width="0.7"/>
<circle cx="265.32" cy="672.09" r="3.75" fill="#f78d02" stroke="#fff" stroke-width="0.7"/>
<circle cx="267.57" cy="674.80" r="3.75" fill="#f78d02" stroke="#fff" stroke-width="0.7"/>
<circle cx="268.93" cy="680.67" r="3.75" fill="#f78d02" stroke="#fff" stroke-width="0.7"/>
<circle cx="272.09" cy="678.86" r="3.75" fill="#f78d02" stroke="#fff" stroke-width="0.7"/>
<circle cx="273.89" cy="683.37" r="3.75" fill="#f78d02" stroke="#fff" stroke-width="0.7"/>
<circle cx="276.15" cy="685.63" r="3.75" fill="#f78d02" stroke="#fff" stroke-width="0.7"/>
<circle cx="277.96" cy="688.79" r="3.75" fill="#f78d02" stroke="#fff" stroke-width="0.7"/>
<circle cx="280.67" cy="690.60" r="3.75" fill="#f78d02" stroke="#fff" stroke-width="0.7"/>
<circle cx="282.02" cy="695.56" r="3.75" fill="#f78d02" stroke="#fff" stroke-width="0.7"/>
<circle cx="284.73" cy="694.66" r="3.75" fill="#f78d02" stroke="#fff" stroke-width="0.7"/>
<circle cx="287.44" cy="697.37" r="3.75" fill="#f78d02" stroke="#fff" stroke-width="0.7"/>
<circle cx="288.34" cy="701.43" r="3.75" fill="#f78d02" stroke="#fff" stroke-width="0.7"/>
<circle cx="289.70" cy="706.40" r="3.75" fill="#f78d02" stroke="#fff" stroke-width="0.7"/>
<circle cx="291.81" cy="706.77" r="3.75" fill="#f78d02" stroke="#fff" stroke-width="0.7"/>
<circle cx="293.76" cy="710.01" r="3.75" fill="#f78d02" stroke="#fff" stroke-width="0.7"/>
<circle cx="296.32" cy="707.67" r="3.75" fill="#f78d02" stroke="#fff" stroke-width="0.7"/>
<circle cx="296.77" cy="716.25" r="3.75" fill="#f78d02" stroke="#fff" stroke-width="0.7"/>
<circle cx="299.18" cy="711.82" r="3.75" fill="#f78d02" stroke="#fff" stroke-width="0.7"/>
<circle cx="300.84" cy="719.41" r="3.75" fill="#f78d02" stroke="#fff" stroke-width="0.7"/>
<circle cx="302.64" cy="722.57" r="3.75" fill="#f78d02" stroke="#fff" stroke-width="0.7"/>
<circle cx="305.50" cy="720.40" r="3.75" fill="#f78d02" stroke="#fff" stroke-width="0.7"/>
<circle cx="306.70" cy="725.73" r="3.75" fill="#f78d02" stroke="#fff" stroke-width="0.7"/>
<circle cx="306.70" cy="731.15" r="3.75" fill="#f78d02" stroke="#fff" stroke-width="0.7"/>
<circle cx="309.11" cy="723.56" r="3.75" fill="#f78d02" stroke="#fff" stroke-width="0.7"/>
<circle cx="310.32" cy="739.73" r="3.75" fill="#f78d02" stroke="#fff" stroke-width="0.7"/>
<circle cx="311.22" cy="729.80" r="3.75" fill="#f78d02" stroke="#fff" stroke-width="0.7"/>
<circle cx="315.28" cy="734.76" r="3.75" fill="#f78d02" stroke="#fff" stroke-width="0.7"/>
<circle cx="316.19" cy="742.89" r="3.75" fill="#f78d02" stroke="#fff" stroke-width="0.7"/>
<circle cx="318.89" cy="740.63" r="3.75" fill="#f78d02" stroke="#fff" stroke-width="0.7"/>
<circle cx="321.15" cy="751.02" r="3.75" fill="#f78d02" stroke="#fff" stroke-width="0.7"/>
<circle cx="323.86" cy="748.31" r="3.75" fill="#f78d02" stroke="#fff" stroke-width="0.7"/>
<circle cx="324.31" cy="739.73" r="3.75" fill="#f78d02" stroke="#fff" stroke-width="0.7"/>
<circle cx="326.57" cy="741.08" r="3.75" fill="#f78d02" stroke="#fff" stroke-width="0.7"/>
<circle cx="327.92" cy="755.53" r="3.75" fill="#f78d02" stroke="#fff" stroke-width="0.7"/>
<circle cx="328.83" cy="766.82" r="3.75" fill="#f78d02" stroke="#fff" stroke-width="0.7"/>
<circle cx="329.73" cy="759.59" r="3.75" fill="#f78d02" stroke="#fff" stroke-width="0.7"/>
<circle cx="331.00" cy="767.50" r="3.75" fill="#f78d02" stroke="#fff" stroke-width="0.7"/>
<circle cx="331.08" cy="751.47" r="3.75" fill="#f78d02" stroke="#fff" stroke-width="0.7"/>
<circle cx="334.00" cy="763.50" r="3.75" fill="#f78d02" stroke="#fff" stroke-width="0.7"/>
<circle cx="335.50" cy="757.50" r="3.75" fill="#f78d02" stroke="#fff" stroke-width="0.7"/>
<circle cx="336.50" cy="774.04" r="3.75" fill="#f78d02" stroke="#fff" stroke-width="0.7"/>
<circle cx="340.00" cy="780.00" r="3.75" fill="#f78d02" stroke="#fff" stroke-width="0.7"/>
<circle cx="340.50" cy="767.00" r="3.75" fill="#f78d02" stroke="#fff" stroke-width="0.7"/>
<circle cx="341.92" cy="774.94" r="3.75" fill="#f78d02" stroke="#fff" stroke-width="0.7"/>
<circle cx="343.72" cy="769.53" r="3.75" fill="#f78d02" stroke="#fff" stroke-width="0.7"/>
<circle cx="344.00" cy="783.00" r="3.75" fill="#f78d02" stroke="#fff" stroke-width="0.7"/>
<circle cx="346.00" cy="769.50" r="3.75" fill="#f78d02" stroke="#fff" stroke-width="0.7"/>
<circle cx="347.50" cy="804.50" r="3.75" fill="#f78d02" stroke="#fff" stroke-width="0.7"/>
<circle cx="347.79" cy="774.94" r="3.75" fill="#f78d02" stroke="#fff" stroke-width="0.7"/>
<circle cx="348.00" cy="783.50" r="3.75" fill="#f78d02" stroke="#fff" stroke-width="0.7"/>
<circle cx="351.00" cy="788.00" r="3.75" fill="#f78d02" stroke="#fff" stroke-width="0.7"/>
<circle cx="351.00" cy="797.50" r="3.75" fill="#f78d02" stroke="#fff" stroke-width="0.7"/>
<circle cx="351.50" cy="771.50" r="3.75" fill="#f78d02" stroke="#fff" stroke-width="0.7"/>
<circle cx="353.00" cy="780.50" r="3.75" fill="#f78d02" stroke="#fff" stroke-width="0.7"/>
<circle cx="353.21" cy="774.94" r="3.75" fill="#f78d02" stroke="#fff" stroke-width="0.7"/>
<circle cx="355.00" cy="792.50" r="3.75" fill="#f78d02" stroke="#fff" stroke-width="0.7"/>
<circle cx="355.50" cy="788.00" r="3.75" fill="#f78d02" stroke="#fff" stroke-width="0.7"/>
<circle cx="355.50" cy="804.50" r="3.75" fill="#f78d02" stroke="#fff" stroke-width="0.7"/>
<circle cx="358.00" cy="777.00" r="3.75" fill="#f78d02" stroke="#fff" stroke-width="0.7"/>
<circle cx="358.50" cy="831.50" r="3.75" fill="#f78d02" stroke="#fff" stroke-width="0.7"/>
<circle cx="359.00" cy="804.50" r="3.75" fill="#f78d02" stroke="#fff" stroke-width="0.7"/>
<circle cx="359.50" cy="782.50" r="3.75" fill="#f78d02" stroke="#fff" stroke-width="0.7"/>
<circle cx="360.50" cy="786.00" r="3.75" fill="#f78d02" stroke="#fff" stroke-width="0.7"/>
<circle cx="360.50" cy="797.50" r="3.75" fill="#f78d02" stroke="#fff" stroke-width="0.7"/>
<circle cx="361.00" cy="792.00" r="3.75" fill="#f78d02" stroke="#fff" stroke-width="0.7"/>
<circle cx="361.20" cy="814.40" r="3.75" fill="#f78d02" stroke="#fff" stroke-width="0.7"/>
<circle cx="362.00" cy="804.50" r="3.75" fill="#f78d02" stroke="#fff" stroke-width="0.7"/>
<circle cx="362.50" cy="814.40" r="3.75" fill="#f78d02" stroke="#fff" stroke-width="0.7"/>
<circle cx="363.00" cy="814.50" r="3.75" fill="#f78d02" stroke="#fff" stroke-width="0.7"/>
<circle cx="363.80" cy="814.40" r="3.75" fill="#f78d02" stroke="#fff" stroke-width="0.7"/>
<circle cx="364.50" cy="797.50" r="3.75" fill="#f78d02" stroke="#fff" stroke-width="0.7"/>
<circle cx="364.50" cy="831.50" r="3.75" fill="#f78d02" stroke="#fff" stroke-width="0.7"/>
<circle cx="365.00" cy="804.50" r="3.75" fill="#f78d02" stroke="#fff" stroke-width="0.7"/>
<circle cx="365.10" cy="814.40" r="3.75" fill="#f78d02" stroke="#fff" stroke-width="0.7"/>
<circle cx="365.50" cy="787.00" r="3.75" fill="#f78d02" stroke="#fff" stroke-width="0.7"/>
<circle cx="366.00" cy="814.50" r="3.75" fill="#f78d02" stroke="#fff" stroke-width="0.7"/>
<circle cx="366.40" cy="814.40" r="3.75" fill="#f78d02" stroke="#fff" stroke-width="0.7"/>
<circle cx="368.00" cy="804.50" r="3.75" fill="#f78d02" stroke="#fff" stroke-width="0.7"/>
<circle cx="368.50" cy="791.50" r="3.75" fill="#f78d02" stroke="#fff" stroke-width="0.7"/>
<circle cx="370.50" cy="797.00" r="3.75" fill="#f78d02" stroke="#fff" stroke-width="0.7"/>
<circle cx="370.50" cy="831.50" r="3.75" fill="#f78d02" stroke="#fff" stroke-width="0.7"/>
<circle cx="371.00" cy="814.50" r="3.75" fill="#f78d02" stroke="#fff" stroke-width="0.7"/>
<circle cx="372.50" cy="804.50" r="3.75" fill="#f78d02" stroke="#fff" stroke-width="0.7"/>
<circle cx="375.00" cy="814.50" r="3.75" fill="#f78d02" stroke="#fff" stroke-width="0.7"/>
<circle cx="375.50" cy="797.50" r="3.75" fill="#f78d02" stroke="#fff" stroke-width="0.7"/>
<circle cx="376.50" cy="831.50" r="3.75" fill="#f78d02" stroke="#fff" stroke-width="0.7"/>
<circle cx="378.00" cy="804.50" r="3.75" fill="#f78d02" stroke="#fff" stroke-width="0.7"/>
<circle cx="380.00" cy="797.50" r="3.75" fill="#f78d02" stroke="#fff" stroke-width="0.7"/>
<circle cx="380.00" cy="804.51" r="3.75" fill="#f78d02" stroke="#fff" stroke-width="0.7"/>
<circle cx="380.00" cy="814.50" r="3.75" fill="#f78d02" stroke="#fff" stroke-width="0.7"/>
<circle cx="380.68" cy="831.53" r="3.75" fill="#f78d02" stroke="#fff" stroke-width="0.7"/>
<circle cx="382.71" cy="814.40" r="3.75" fill="#f78d02" stroke="#fff" stroke-width="0.7"/>
<circle cx="384.50" cy="831.50" r="3.75" fill="#f78d02" stroke="#fff" stroke-width="0.7"/>
<circle cx="385.80" cy="831.50" r="3.75" fill="#f78d02" stroke="#fff" stroke-width="0.7"/>
<circle cx="386.77" cy="797.40" r="3.75" fill="#f78d02" stroke="#fff" stroke-width="0.7"/>
<circle cx="387.10" cy="831.50" r="3.75" fill="#f78d02" stroke="#fff" stroke-width="0.7"/>
<circle cx="387.50" cy="804.50" r="3.75" fill="#f78d02" stroke="#fff" stroke-width="0.7"/>
<circle cx="387.79" cy="814.40" r="3.75" fill="#f78d02" stroke="#fff" stroke-width="0.7"/>
<circle cx="388.40" cy="831.50" r="3.75" fill="#f78d02" stroke="#fff" stroke-width="0.7"/>
<circle cx="388.80" cy="831.53" r="3.75" fill="#f78d02" stroke="#fff" stroke-width="0.7"/>
<circle cx="389.70" cy="831.50" r="3.75" fill="#f78d02" stroke="#fff" stroke-width="0.7"/>
<circle cx="391.00" cy="831.50" r="3.75" fill="#f78d02" stroke="#fff" stroke-width="0.7"/>
<circle cx="391.51" cy="831.53" r="3.75" fill="#f78d02" stroke="#fff" stroke-width="0.7"/>
<circle cx="392.30" cy="831.50" r="3.75" fill="#f78d02" stroke="#fff" stroke-width="0.7"/>
<circle cx="393.60" cy="831.50" r="3.75" fill="#f78d02" stroke="#fff" stroke-width="0.7"/>
<circle cx="394.00" cy="831.50" r="3.75" fill="#f78d02" stroke="#fff" stroke-width="0.7"/>
<circle cx="394.50" cy="814.50" r="3.75" fill="#f78d02" stroke="#fff" stroke-width="0.7"/>
<circle cx="398.28" cy="831.53" r="3.75" fill="#f78d02" stroke="#fff" stroke-width="0.7"/>
<circle cx="401.67" cy="831.53" r="3.75" fill="#f78d02" stroke="#fff" stroke-width="0.7"/>
<circle cx="402.50" cy="804.50" r="3.75" fill="#f78d02" stroke="#fff" stroke-width="0.7"/>
<circle cx="403.36" cy="814.40" r="3.75" fill="#f78d02" stroke="#fff" stroke-width="0.7"/>
<circle cx="407.43" cy="814.40" r="3.75" fill="#f78d02" stroke="#fff" stroke-width="0.7"/>
<circle cx="408.00" cy="831.50" r="3.75" fill="#f78d02" stroke="#fff" stroke-width="0.7"/>
<circle cx="411.15" cy="831.53" r="3.75" fill="#f78d02" stroke="#fff" stroke-width="0.7"/>
<circle cx="416.57" cy="831.53" r="3.75" fill="#f78d02" stroke="#fff" stroke-width="0.7"/>
<circle cx="421.31" cy="831.53" r="3.75" fill="#f78d02" stroke="#fff" stroke-width="0.7"/>
<circle cx="424.70" cy="831.53" r="3.75" fill="#f78d02" stroke="#fff" stroke-width="0.7"/>
<circle cx="428.76" cy="831.53" r="3.75" fill="#f78d02" stroke="#fff" stroke-width="0.7"/>
<text x="671.5" y="658.6" font-size="12.7" text-anchor="middle">Metric</text>
<circle cx="592.45" cy="672.1" r="4.0" fill="#026fbf" stroke="#fff" stroke-width="0.7"/>
<circle cx="592.45" cy="689.8" r="4.0" fill="#f78d02" stroke="#fff" stroke-width="0.7"/>
<text x="615.4" y="676.3" font-size="12.6">Topological Dimensionality</text>
<text x="615.1" y="694.4" font-size="12.6">Node Degree</text>
</svg></body></html>
